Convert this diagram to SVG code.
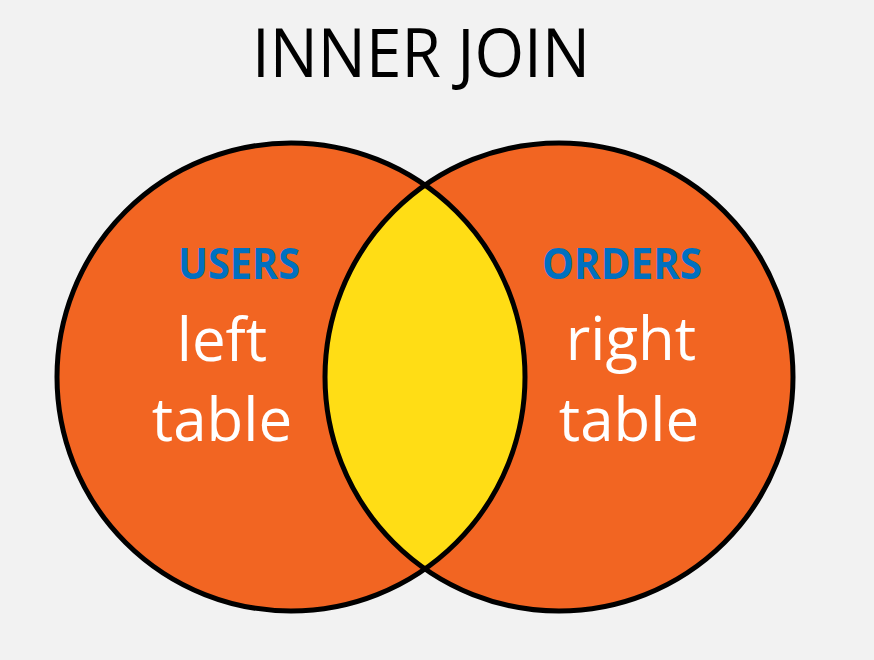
<svg xmlns="http://www.w3.org/2000/svg" width="874" height="660" viewBox="0 0 874 660">
<style>
.circ{fill:#F26522;}
.ring{fill:none;stroke:#000;stroke-width:5;}
.lbl{font-family:"Open Sans","Liberation Sans",sans-serif;font-weight:700;fill:#0070C0;font-size:43px;text-anchor:middle;}
.sub{font-family:"Open Sans","Liberation Sans",sans-serif;fill:#fff;font-size:60px;text-anchor:middle;}
</style>
<rect width="874" height="660" fill="#F2F2F2"/>
<text x="421" y="77" font-family="'Open Sans','Liberation Sans',sans-serif" font-size="68" fill="#000" text-anchor="middle" textLength="338" lengthAdjust="spacingAndGlyphs">INNER JOIN</text>
<g id="left-table">
<circle class="circ" cx="291" cy="377" r="234"/>
</g>
<g id="right-table">
<circle class="circ" cx="559" cy="377" r="234"/>
</g>
<g id="intersection">
<path d="M425,185.2 A234,234 0 0 0 425,568.8 A234,234 0 0 0 425,185.2 Z" fill="#FFDD15"/>
</g>
<g id="outlines">
<circle class="ring" cx="291" cy="377" r="234"/>
<circle class="ring" cx="559" cy="377" r="234"/>
</g>
<g id="left-labels">
<text class="lbl" x="239" y="279" textLength="122" lengthAdjust="spacingAndGlyphs">USERS</text>
<text class="sub" x="222" y="361">left</text>
<text class="sub" x="222" y="441">table</text>
</g>
<g id="right-labels">
<text class="lbl" x="622" y="279" textLength="160" lengthAdjust="spacingAndGlyphs">ORDERS</text>
<text class="sub" x="631" y="360">right</text>
<text class="sub" x="629" y="441">table</text>
</g>
</svg>
